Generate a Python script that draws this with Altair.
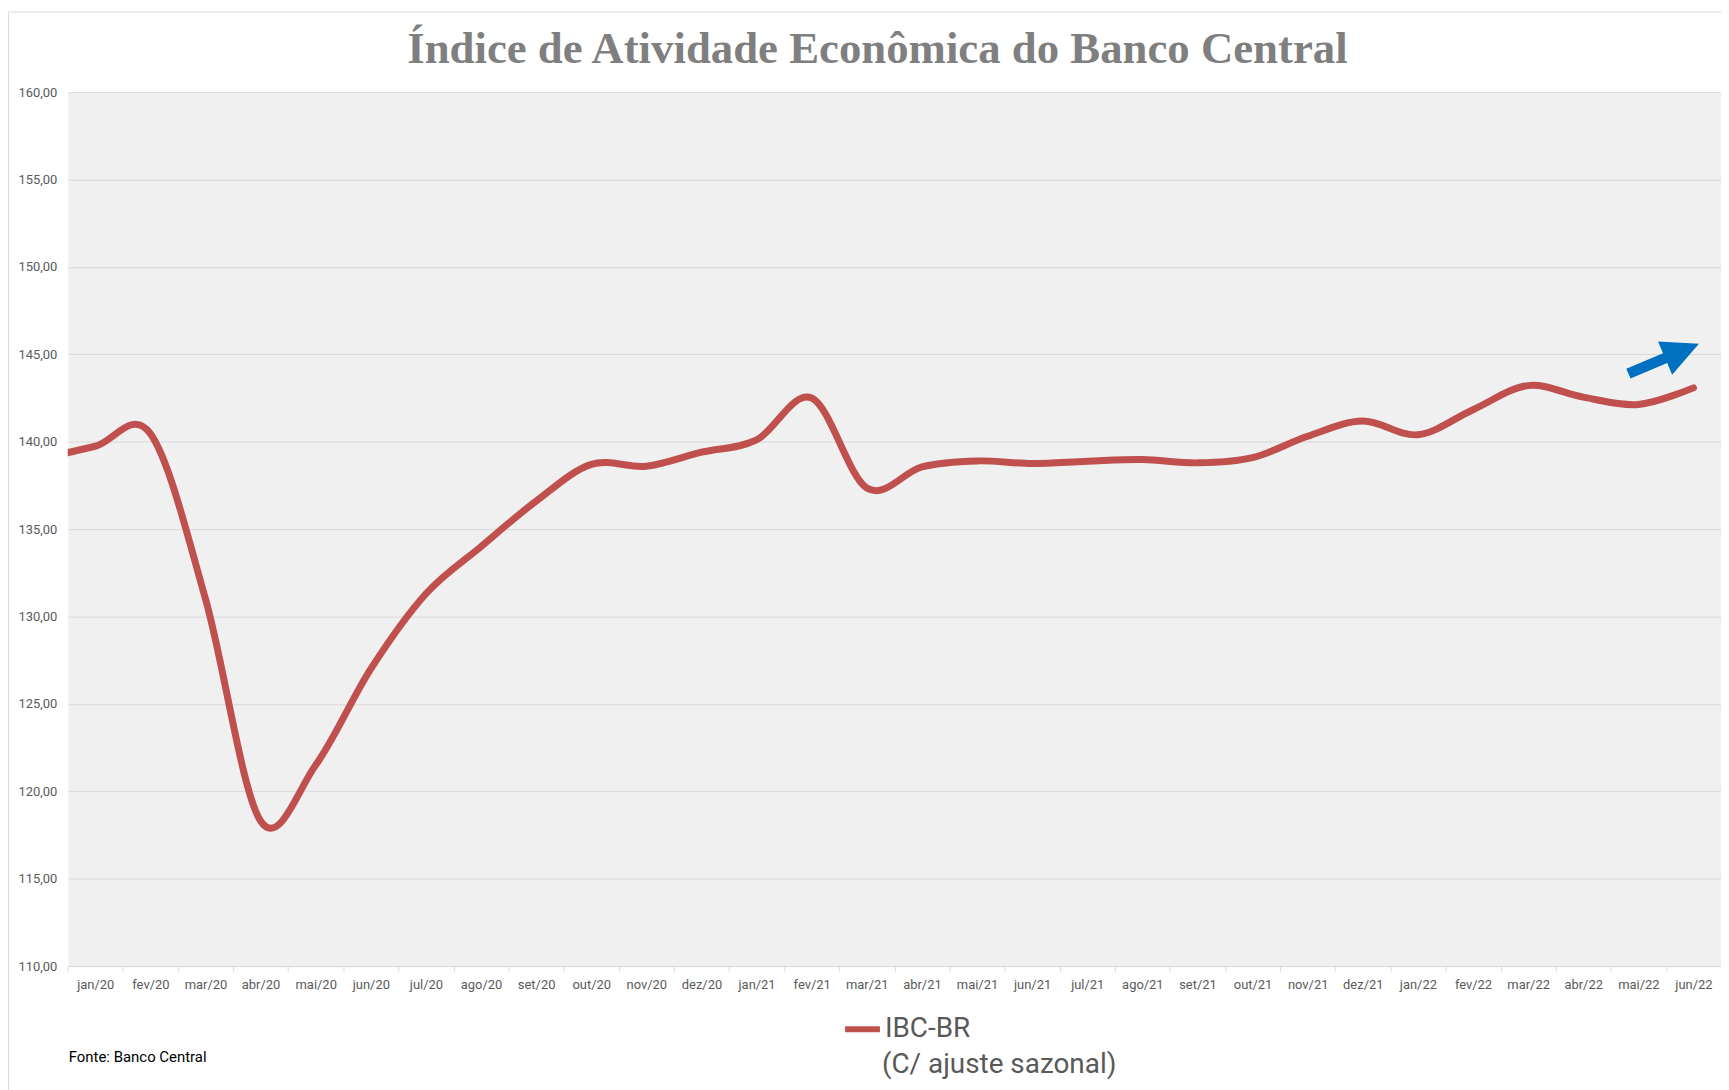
import json
import altair as alt
import pandas as pd

# ---- data ----
months = ["dez/19",
          "jan/20", "fev/20", "mar/20", "abr/20", "mai/20", "jun/20",
          "jul/20", "ago/20", "set/20", "out/20", "nov/20", "dez/20",
          "jan/21", "fev/21", "mar/21", "abr/21", "mai/21", "jun/21",
          "jul/21", "ago/21", "set/21", "out/21", "nov/21", "dez/21",
          "jan/22", "fev/22", "mar/22", "abr/22", "mai/22", "jun/22"]
ibc_br = [139.0,
          139.74, 140.46, 131.0, 118.3, 121.5, 127.0,
          131.3, 134.0, 136.6, 138.7, 138.6, 139.4,
          140.1, 142.5, 137.35, 138.56, 138.9, 138.75,
          138.88, 138.98, 138.79, 139.09, 140.31, 141.18,
          140.40, 141.83, 143.21, 142.55, 142.13, 143.08]
axis_labels = months[1:]
y_ticks = [110, 115, 120, 125, 130, 135, 140, 145, 150, 155, 160]
series_name = "IBC-BR"
legend_note = "(C/ ajuste sazonal)"
title_text = ["Índice de Atividade Econômica do Banco Central"]
source_notes = ["Fonte: Banco Central"]
arrow_at = {"idx": [28.46], "valor": [144.75]}

# ---- layout ----
W, H = 1661, 878
band = W / len(axis_labels)
RED = "#C0504D"
GRID = "#d9d9d9"
LABEL = "#595959"

df = pd.DataFrame({
    "idx": list(range(-1, len(months) - 1)),
    "mes": months,
    "valor": ibc_br,
    "serie": series_name,
})

x_scale = alt.Scale(domain=[-0.5, len(axis_labels) - 0.5], nice=False, zero=False)
y_scale = alt.Scale(domain=[110, 160], nice=False, zero=False)

label_js = json.dumps(axis_labels)
x_axis = alt.Axis(
    values=[i - 0.5 for i in range(len(axis_labels) + 1)],
    labelExpr=f"datum.value < {len(axis_labels) - 1} ? {label_js}[round(datum.value + 0.5)] : ''",
    labelOffset=band / 2,
    labelFont="Roboto", labelFontSize=13, labelColor=LABEL,
    labelOverlap=False, labelFlush=False, labelBound=False,
    labelPadding=8,
    ticks=True, tickSize=5, tickColor=GRID, tickWidth=1,
    domain=True, domainColor=GRID, domainWidth=1,
    grid=False, title=None,
)
y_axis = alt.Axis(
    values=y_ticks,
    labelExpr="replace(format(datum.value, '.2f'), '.', ',')",
    labelFont="Roboto", labelFontSize=13, labelColor=LABEL,
    labelPadding=11, ticks=False, domain=False,
    grid=True, gridColor=GRID, gridWidth=1, title=None,
)

one = pd.DataFrame({"k": [0]})

frame = alt.Chart(one).mark_rect(fillOpacity=0, stroke=GRID, strokeWidth=1, clip=False).encode(
    x=alt.value(-59.5), x2=alt.value(2000), y=alt.value(-80.5), y2=alt.value(1300)
)

title = alt.Chart(pd.DataFrame({"t": title_text})).mark_text(
    align="center", baseline="alphabetic", font="Liberation Serif", fontSize=45,
    fontWeight="bold", color="#7f7f7f",
).encode(x=alt.value(W / 2 - 17), y=alt.value(-29), text="t:N")

line = alt.Chart(df).mark_line(
    interpolate="cardinal", tension=0, strokeWidth=7,
    strokeCap="round", strokeJoin="round", clip=True,
).encode(
    x=alt.X("idx:Q", scale=x_scale, axis=x_axis),
    y=alt.Y("valor:Q", scale=y_scale, axis=y_axis),
    color=alt.Color(
        "serie:N",
        scale=alt.Scale(domain=[series_name], range=[RED]),
        legend=alt.Legend(
            title=None, orient="none", legendX=778, legendY=921,
            symbolType="stroke", symbolStrokeWidth=6, symbolSize=1225,
            labelFont="Roboto", labelFontSize=28, labelColor=LABEL,
            labelOffset=2, padding=0, labelLimit=0,
        ),
    ),
)

arrow_path = "M-1,-0.14L0.04,-0.14L0.04,-0.47L1,0L0.04,0.47L0.04,0.14L-1,0.14Z"
arrow = alt.Chart(pd.DataFrame(arrow_at)).mark_point(
    shape=arrow_path, filled=True, size=5929, angle=337,
    color="#0070C0", opacity=1, strokeWidth=0,
).encode(
    x=alt.X("idx:Q", scale=x_scale, axis=x_axis),
    y=alt.Y("valor:Q", scale=y_scale, axis=y_axis),
)

fonte = alt.Chart(pd.DataFrame({"t": source_notes})).mark_text(
    align="left", baseline="middle", font="Roboto", fontSize=15, color="#000000",
).encode(x=alt.value(1), y=alt.value(969), text="t:N")

note2 = alt.Chart(pd.DataFrame({"t": [legend_note]})).mark_text(
    align="left", baseline="middle", font="Roboto", fontSize=28, color=LABEL,
).encode(x=alt.value(818), y=alt.value(977), text="t:N")

chart = alt.layer(frame, title, line, arrow, fonte, note2).properties(
    width=W, height=H,
    padding={"left": 60, "top": 82, "right": 0, "bottom": 122},
    autosize=alt.AutoSizeParams(type="none"),
).configure_view(fill="#f0f0f0", stroke="transparent")

chart.save("out.html", embed_options={"renderer": "svg", "actions": False})
